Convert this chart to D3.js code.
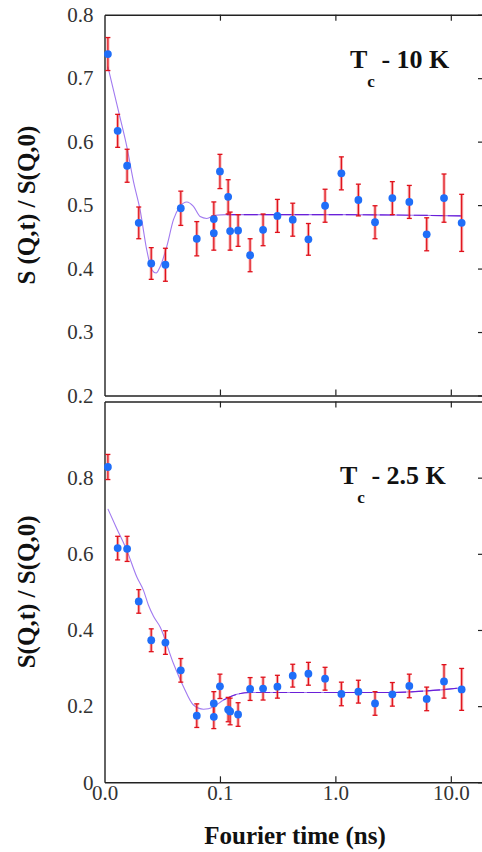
<!DOCTYPE html>
<html>
<head>
<meta charset="utf-8">
<script src="https://cdn.jsdelivr.net/npm/d3@7"></script>
<style>
  body { margin: 0; background: #fff; }
  svg { display: block; }
  text { font-family: "Liberation Serif", "Times New Roman", serif; }
</style>
</head>
<body>
<svg id="chart" width="482" height="852"></svg>
<script>
// Fourier times (ns) shared by both temperatures
const fourierTime = [0.0107, 0.0130, 0.0157, 0.0198, 0.0254, 0.0337, 0.0458, 0.0630, 0.0885, 0.0885,
  0.100, 0.1178, 0.1225, 0.1436, 0.1825, 0.2364, 0.3146, 0.4272, 0.5838, 0.8141,
  1.127, 1.582, 2.205, 3.115, 4.37, 6.18, 8.73, 12.41];

// Tc - 10 K
const upperValues = [0.738, 0.617, 0.562, 0.472, 0.408, 0.406, 0.495, 0.447, 0.478, 0.456,
  0.553, 0.513, 0.459, 0.460, 0.421, 0.461, 0.483, 0.477, 0.446, 0.499,
  0.550, 0.508, 0.473, 0.511, 0.505, 0.454, 0.511, 0.472];
const upperErrors = [0.026, 0.026, 0.026, 0.025, 0.025, 0.026, 0.027, 0.027, 0.027, 0.027,
  0.027, 0.027, 0.030, 0.025, 0.026, 0.025, 0.026, 0.026, 0.025, 0.026,
  0.026, 0.025, 0.026, 0.026, 0.026, 0.026, 0.038, 0.045];

// Tc - 2.5 K
const lowerValues = [0.828, 0.615, 0.613, 0.475, 0.373, 0.367, 0.294, 0.175, 0.207, 0.172,
  0.252, 0.191, 0.186, 0.178, 0.245, 0.246, 0.251, 0.280, 0.285, 0.272,
  0.232, 0.238, 0.207, 0.231, 0.253, 0.219, 0.265, 0.244];
const lowerErrors = [0.033, 0.031, 0.033, 0.031, 0.030, 0.031, 0.031, 0.031, 0.031, 0.031,
  0.032, 0.032, 0.035, 0.031, 0.030, 0.030, 0.030, 0.030, 0.030, 0.030,
  0.031, 0.030, 0.031, 0.031, 0.031, 0.031, 0.044, 0.055];

// Model fits, sampled along the curve
const upperFitTime = [0.0107, 0.01196, 0.01367, 0.01561, 0.01783, 0.02036, 0.02325, 0.02569, 0.02801,
  0.03034, 0.03465, 0.03957, 0.04519, 0.05162, 0.05896, 0.06733, 0.07691, 0.0908, 0.1146, 1.0, 5.0, 12.41];
const upperFitValues = [0.718, 0.681, 0.637, 0.592, 0.537, 0.492, 0.429, 0.398, 0.393,
  0.403, 0.435, 0.477, 0.498, 0.505, 0.498, 0.482, 0.479, 0.484, 0.485, 0.485, 0.484, 0.483];
const lowerFitTime = [0.0107, 0.01279, 0.01561, 0.01906, 0.02176, 0.02404, 0.02657, 0.03034, 0.03957,
  0.04831, 0.05896, 0.07197, 0.08783, 0.1072, 0.1399, 0.1825, 3.178, 6.18, 12.41];
const lowerFitValues = [0.718, 0.666, 0.609, 0.539, 0.504, 0.465, 0.436, 0.408, 0.312,
  0.251, 0.203, 0.192, 0.198, 0.216, 0.231, 0.236, 0.236, 0.240, 0.248];

const xTickValues = [0.01, 0.1, 1, 10];
const xTickLabels = ["0.0", "0.1", "1.0", "10.0"];
const upperYTicks = [0.2, 0.3, 0.4, 0.5, 0.6, 0.7, 0.8];
const upperYTickLabels = ["0.2", "0.3", "0.4", "0.5", "0.6", "0.7", "0.8"];
const lowerYTicks = [0, 0.2, 0.4, 0.6, 0.8];
const lowerYTickLabels = ["0", "0.2", "0.4", "0.6", "0.8"];

const svg = d3.select("#chart");
const left = 104.5, right = 483;
const x = d3.scaleLog().domain([0.01, 19]).range([left, right]);

const panels = [
  { top: 14.7, bottom: 395.5, domain: [0.2, 0.8], values: upperValues, errors: upperErrors,
    fitT: upperFitTime, fitV: upperFitValues, ticks: upperYTicks, tickLabels: upperYTickLabels,
    xLabels: false, title: "S (Q,t) / S(Q,0)", tag: " - 10 K", tagX: 350, tagY: 68 },
  { top: 401.5, bottom: 782.3, domain: [0, 1.0], values: lowerValues, errors: lowerErrors,
    fitT: lowerFitTime, fitV: lowerFitValues, ticks: lowerYTicks, tickLabels: lowerYTickLabels,
    xLabels: true, title: "S(Q,t) / S(Q,0)", tag: " - 2.5 K", tagX: 340, tagY: 484 }
];

panels.forEach(p => {
  const y = d3.scaleLinear().domain(p.domain).range([p.bottom, p.top]);
  const g = svg.append("g");

  // frame and axes
  const axisStyle = sel => {
    sel.selectAll("path.domain").attr("stroke", "#222").attr("stroke-width", 1.4);
    sel.selectAll(".tick line").attr("stroke", "#222").attr("stroke-width", 1.2);
    sel.selectAll(".tick text").attr("font-size", 21).attr("fill", "#333")
      .attr("font-family", "'Liberation Serif', serif");
  };

  g.append("g").attr("transform", `translate(0,${p.bottom})`)
    .call(d3.axisBottom(x).tickValues(xTickValues).tickSizeInner(-6).tickSizeOuter(0).tickPadding(3)
      .tickFormat((d, i) => p.xLabels ? xTickLabels[i] : ""))
    .call(axisStyle)
    .call(s => s.selectAll(".tick line").filter(d => d === 0.01).remove());

  g.append("g").attr("transform", `translate(0,${p.top})`)
    .call(d3.axisTop(x).tickValues(xTickValues).tickSizeInner(-6).tickSizeOuter(0).tickFormat(""))
    .call(axisStyle)
    .call(s => s.selectAll(".tick line").filter(d => d === 0.01).remove());

  g.append("g").attr("transform", `translate(${left},0)`)
    .call(d3.axisLeft(y).tickValues(p.ticks).tickSize(0).tickPadding(11)
      .tickFormat((d, i) => p.tickLabels[i]))
    .call(axisStyle);

  g.append("g").attr("transform", `translate(${right},0)`)
    .call(d3.axisRight(y).tickValues(p.ticks).tickSizeInner(-5).tickSizeOuter(0).tickFormat(""))
    .call(axisStyle);

  // fit curve
  const fit = p.fitT.map((t, i) => [t, p.fitV[i]]);
  const line = d3.line().x(d => x(d[0])).y(d => y(d[1])).curve(d3.curveMonotoneX);
  g.append("path").attr("d", line(fit)).attr("fill", "none")
    .attr("stroke", "#a17af0").attr("stroke-width", 1.1);
  const plateau = fit.filter(d => d[0] >= 0.1);
  g.append("path").attr("d", line(plateau)).attr("fill", "none")
    .attr("stroke", "#6a20d8").attr("stroke-width", 1.1).attr("stroke-dasharray", "14,3");

  // error bars
  const pts = fourierTime.map((t, i) => ({ t, v: p.values[i], e: p.errors[i] }));
  const eb = g.append("g").selectAll("g").data(pts).join("g");
  eb.append("line")
    .attr("x1", d => x(d.t)).attr("x2", d => x(d.t))
    .attr("y1", d => y(d.v - d.e)).attr("y2", d => y(d.v + d.e))
    .attr("stroke", "rgba(240,90,90,0.45)").attr("stroke-width", 3.2);
  eb.append("line")
    .attr("x1", d => x(d.t)).attr("x2", d => x(d.t))
    .attr("y1", d => y(d.v - d.e)).attr("y2", d => y(d.v + d.e))
    .attr("stroke", "#e0101a").attr("stroke-width", 1.2);
  [d => d.v - d.e, d => d.v + d.e].forEach(f => {
    eb.append("line")
      .attr("x1", d => x(d.t) - 2.5).attr("x2", d => x(d.t) + 2.5)
      .attr("y1", d => y(f(d))).attr("y2", d => y(f(d)))
      .attr("stroke", "#e0101a").attr("stroke-width", 1.3);
  });

  // data points
  g.append("g").selectAll("circle").data(pts).join("circle")
    .attr("cx", d => x(d.t)).attr("cy", d => y(d.v)).attr("r", 3.9)
    .attr("fill", "#1f6ef8");

  // y title
  g.append("text")
    .attr("transform", `translate(26,${(p.top + p.bottom) / 2}) rotate(-90)`)
    .attr("text-anchor", "middle").attr("dominant-baseline", "central")
    .attr("font-size", 25).attr("font-weight", "bold").attr("fill", "#111")
    .text(p.title);

  // temperature tag
  const tag = g.append("text").attr("x", p.tagX).attr("y", p.tagY)
    .attr("font-size", 26).attr("font-weight", "bold").attr("fill", "#111");
  tag.append("tspan").text("T");
  tag.append("tspan").attr("font-size", 17).attr("dy", 19).text("c");
  tag.append("tspan").attr("dy", -19).text(p.tag);
});

svg.append("text").attr("x", 295).attr("y", 844).attr("text-anchor", "middle")
  .attr("font-size", 25).attr("font-weight", "bold").attr("fill", "#111")
  .text("Fourier time (ns)");
</script>
</body>
</html>
